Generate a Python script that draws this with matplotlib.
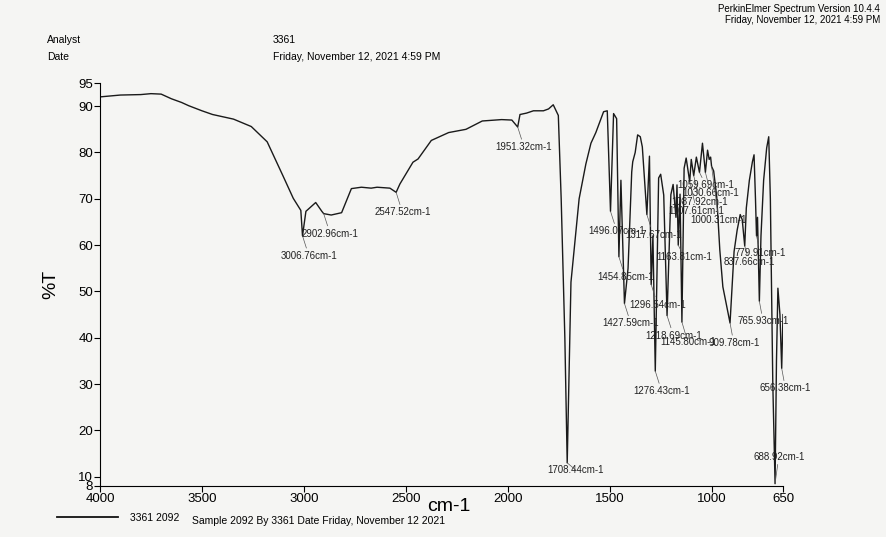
import numpy as np
import matplotlib
matplotlib.use("Agg")
import matplotlib.pyplot as plt
from matplotlib.lines import Line2D

plt.rcParams["font.family"] = ["Liberation Sans", "DejaVu Sans"]

# spectrum (wavenumber cm-1, %T)
wavenumber = [4000, 3900, 3800, 3750, 3700, 3650, 3600, 3565, 3500, 3448, 3345, 3258, 3180,
              3103, 3052, 3015, 3006.76, 2990, 2942, 2912, 2902.96, 2866, 2815, 2767,
              2718, 2670, 2641, 2578, 2547.52, 2529, 2465, 2440, 2375, 2290, 2205, 2125,
              2030, 1980, 1951.32, 1940, 1908, 1874, 1825, 1800, 1777, 1752, 1738, 1720,
              1708.44, 1698, 1690, 1650, 1617, 1592, 1568, 1530, 1512, 1496.07, 1481,
              1466, 1454.85, 1445, 1427.59, 1410, 1392, 1387, 1375, 1363, 1350, 1340,
              1317.67, 1305, 1296.54, 1288, 1276.43, 1260, 1250, 1235, 1218.69, 1200,
              1189, 1175, 1170, 1163.81, 1155, 1145.80, 1135, 1125, 1107.61, 1100,
              1087.92, 1075, 1059.69, 1045, 1030.66, 1020, 1012, 1005, 1000.31, 990,
              975, 960, 945, 909.78, 890, 875, 860, 850, 837.66, 830, 815, 800, 792,
              785, 779.91, 775, 765.93, 758, 745, 730, 720, 712, 700, 688.92, 682, 675,
              665, 656.38, 650]
transmittance = [92.0, 92.4, 92.5, 92.7, 92.6, 91.6, 90.8, 90.1, 89.0, 88.2, 87.2, 85.6, 82.3,
                 75.0, 70.1, 67.5, 62.0, 67.3, 69.2, 67.3, 66.8, 66.5, 67.0, 72.2,
                 72.5, 72.3, 72.5, 72.3, 71.4, 73.2, 77.9, 78.6, 82.6, 84.3, 85.0, 86.8,
                 87.1, 87.0, 85.5, 88.2, 88.5, 89.0, 89.0, 89.4, 90.3, 88.0, 70.0, 40.0,
                 13.0, 35.0, 52.0, 70.0, 77.5, 82.0, 84.3, 88.8, 89.0, 67.3, 88.4,
                 87.3, 57.5, 74.0, 47.4, 55.0, 75.8, 78.0, 80.0, 83.8, 83.4, 81.2,
                 66.6, 79.2, 51.5, 62.0, 32.8, 74.5, 75.3, 70.8, 44.8, 70.9,
                 73.1, 66.0, 73.0, 60.0, 71.0, 43.4, 76.6, 78.8, 73.7, 78.5,
                 75.0, 79.0, 75.7, 82.0, 75.7, 80.5, 78.5, 79.0, 77.0, 76.0,
                 70.4, 59.0, 51.0, 43.2, 58.6, 63.2, 66.6, 65.5, 59.8, 68.0, 74.0, 78.0, 79.5,
                 70.0, 62.0, 66.0, 47.9, 62.0, 74.0, 81.0, 83.4, 70.0, 30.0, 8.5, 35.0, 50.7,
                 45.0, 33.4, 45.0]

# labelled peaks
peak_wn = [3006.76, 2902.96, 2547.52, 1951.32, 1708.44, 1496.07, 1454.85, 1427.59,
           1317.67, 1296.54, 1276.43, 1218.69, 1163.81, 1145.80, 1107.61, 1087.92,
           1059.69, 1030.66, 1000.31, 909.78, 837.66, 779.91, 765.93, 688.92, 656.38]

# label offsets from the peak tip, in pixels
label_off = {1708.44: (-20, -7), 1163.81: (-22, -12), 1107.61: (-21, -29),
             1087.92: (-22, -26), 1059.69: (-22, -13), 1030.66: (-23, -21),
             1000.31: (-21, -54), 837.66: (-21, -16), 779.91: (-22, -17),
             688.92: (-22, 27)}

xticks = [4000, 3500, 3000, 2500, 2000, 1500, 1000, 650]
yticks = [95, 90, 80, 70, 60, 50, 40, 30, 20, 10, 8]

W, H = 887, 537
fig = plt.figure(figsize=(W / 100, H / 100), dpi=100)
fig.patch.set_facecolor("#f5f5f3")

ax = fig.add_axes([100 / W, 1 - 486 / H, 683 / W, 403 / H])
ax.set_facecolor("none")
ax.plot(wavenumber, transmittance, color="#1a1a1a", lw=1.0)
ax.set_xlim(4000, 650)
ax.set_ylim(8, 95)
ax.set_xticks(xticks)
ax.set_yticks(yticks)
ax.tick_params(labelsize=9.5, length=4, width=0.8, pad=1)
for s in ["top", "right"]:
    ax.spines[s].set_visible(False)
ax.set_xlabel("cm-1", fontsize=14, labelpad=-2)
ax.xaxis.set_label_coords(0.51, -0.03)
ax.set_ylabel("%T", fontsize=14)
ax.yaxis.set_label_coords(-0.06, 0.5)

wn_sorted = np.array(wavenumber)[::-1]
tr_sorted = np.array(transmittance)[::-1]
for p in peak_wn:
    t = np.interp(p, wn_sorted, tr_sorted)
    dx, dy = label_off.get(p, (-22, -20))
    ax.annotate(f"{p:.2f}cm-1", xy=(p, t), xytext=(dx, dy), textcoords="offset pixels",
                fontsize=7, ha="left", va="center", color="#222222",
                arrowprops=dict(arrowstyle="-", lw=0.5, color="#555555",
                                shrinkA=0, shrinkB=0))

# header
fig.text(47 / W, 1 - 40 / H, "Analyst", fontsize=7.5, va="center")
fig.text(47 / W, 1 - 57 / H, "Date", fontsize=7.5, va="center")
fig.text(273 / W, 1 - 40 / H, "3361", fontsize=7.5, va="center")
fig.text(273 / W, 1 - 57 / H, "Friday, November 12, 2021 4:59 PM", fontsize=7.5, va="center")
fig.text(880 / W, 1 - 9 / H, "PerkinElmer Spectrum Version 10.4.4", fontsize=7, ha="right", va="center")
fig.text(880 / W, 1 - 20 / H, "Friday, November 12, 2021 4:59 PM", fontsize=7, ha="right", va="center")

# footer
fig.add_artist(Line2D([57 / W, 118 / W], [1 - 517 / H, 1 - 517 / H], color="#111111", lw=1.3))
fig.text(130 / W, 1 - 518 / H, "3361 2092", fontsize=7.5, va="center")
fig.text(192 / W, 1 - 521 / H, "Sample 2092 By 3361 Date Friday, November 12 2021", fontsize=7.5, va="center")

fig.savefig("out.png", dpi=100, facecolor=fig.get_facecolor())
